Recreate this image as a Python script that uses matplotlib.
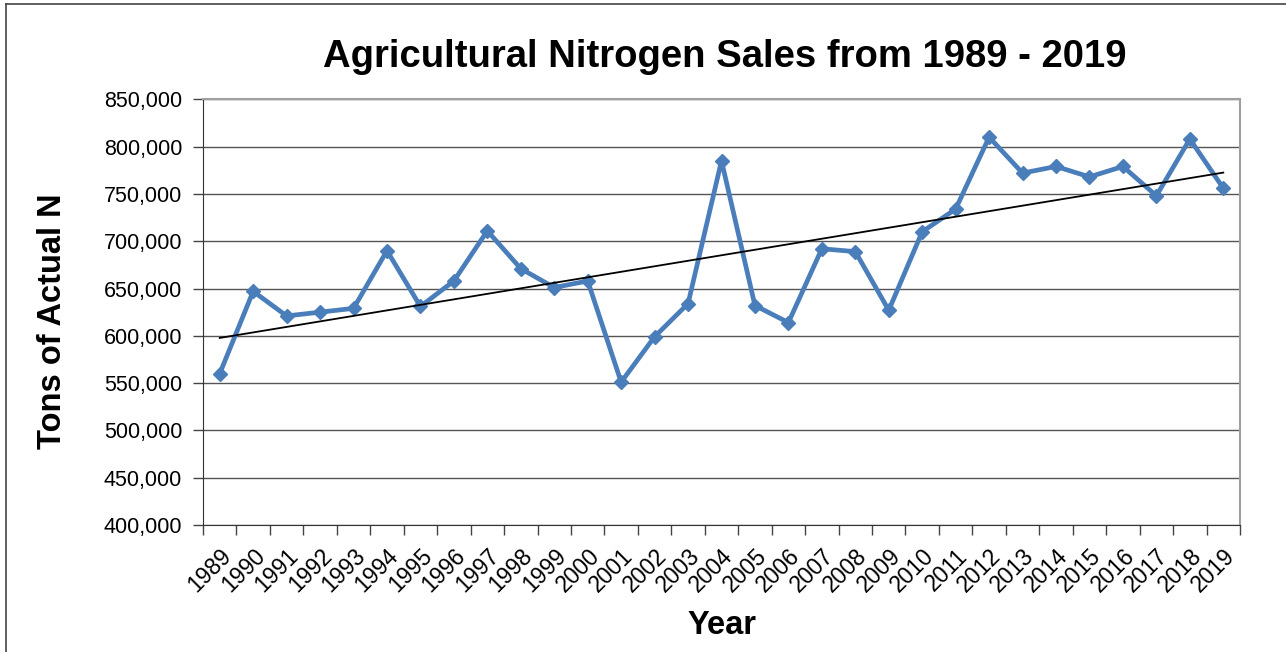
import numpy as np
import matplotlib
matplotlib.use("Agg")
import matplotlib.pyplot as plt
from matplotlib.lines import Line2D
from matplotlib.ticker import FuncFormatter, MultipleLocator

years = list(range(1989, 2020))
tons = [560000, 647000, 621000, 625000, 629000, 690000, 631000, 658000,
        711000, 671000, 651000, 658000, 551000, 599000, 634000, 785000,
        632000, 614000, 692000, 689000, 627000, 710000, 734000, 810000,
        772000, 779000, 768000, 779000, 748000, 808000, 756000]
year_labels = [str(y) for y in years]

plt.rcParams['font.family'] = ['Liberation Sans', 'DejaVu Sans']

fig = plt.figure(figsize=(12.86, 6.52), dpi=100)
ax = fig.add_axes([203 / 1286, 1 - 525 / 652, 1037 / 1286, 425.7 / 652])

x = np.arange(len(years))
ax.plot(x, tons, color='#4a7ebb', lw=3.4, marker='D', ms=7.5, zorder=3)

# linear trendline like Excel
slope, intercept = np.polyfit(x, tons, 1)
ax.plot(x, slope * x + intercept, color='black', lw=1.3, zorder=4)

ax.set_xlim(-0.5, len(years) - 0.5)
ax.set_ylim(400000, 850000)
ax.yaxis.set_major_locator(MultipleLocator(50000))
ax.yaxis.set_major_formatter(FuncFormatter(lambda v, p: f"{int(v):,}"))
ax.grid(axis='y', color='#555555', lw=1.0)
ax.set_axisbelow(True)

ax.set_xticks(x)
ax.set_xticklabels(year_labels, rotation=45, ha='right', rotation_mode='anchor')
ax.set_xticks(np.arange(-0.5, len(years)), minor=True)
ax.tick_params(axis='x', which='major', length=0, pad=14, labelsize=16.5)
ax.tick_params(axis='x', which='minor', length=7, width=1, color='#444444')
ax.tick_params(axis='y', length=7, width=1, color='#444444', pad=8, labelsize=15.5)

for side in ['top', 'right']:
    ax.spines[side].set_color('#a0a0a0')
    ax.spines[side].set_linewidth(1.5)
ax.spines['left'].set_color('#333333')
ax.spines['bottom'].set_color('#333333')

fig.text(725 / 1286, 1 - 67 / 652, 'Agricultural Nitrogen Sales from 1989 - 2019',
         ha='center', va='baseline', fontsize=27.5, fontweight='bold')
fig.text(53 / 1286, 1 - 321 / 652, 'Tons of Actual N', rotation=90,
         ha='center', va='center', fontsize=23.5, fontweight='bold')
fig.text(722 / 1286, 1 - 626 / 652, 'Year', ha='center', va='center',
         fontsize=23.5, fontweight='bold')

# chart area border (left and top edges visible)
fig.add_artist(Line2D([6 / 1286, 6 / 1286], [0, 1 - 4 / 652], transform=fig.transFigure,
                      color='#444444', lw=1.2))
fig.add_artist(Line2D([6 / 1286, 1], [1 - 4 / 652, 1 - 4 / 652], transform=fig.transFigure,
                      color='#444444', lw=1.2))

fig.savefig('out.png', dpi=100)
